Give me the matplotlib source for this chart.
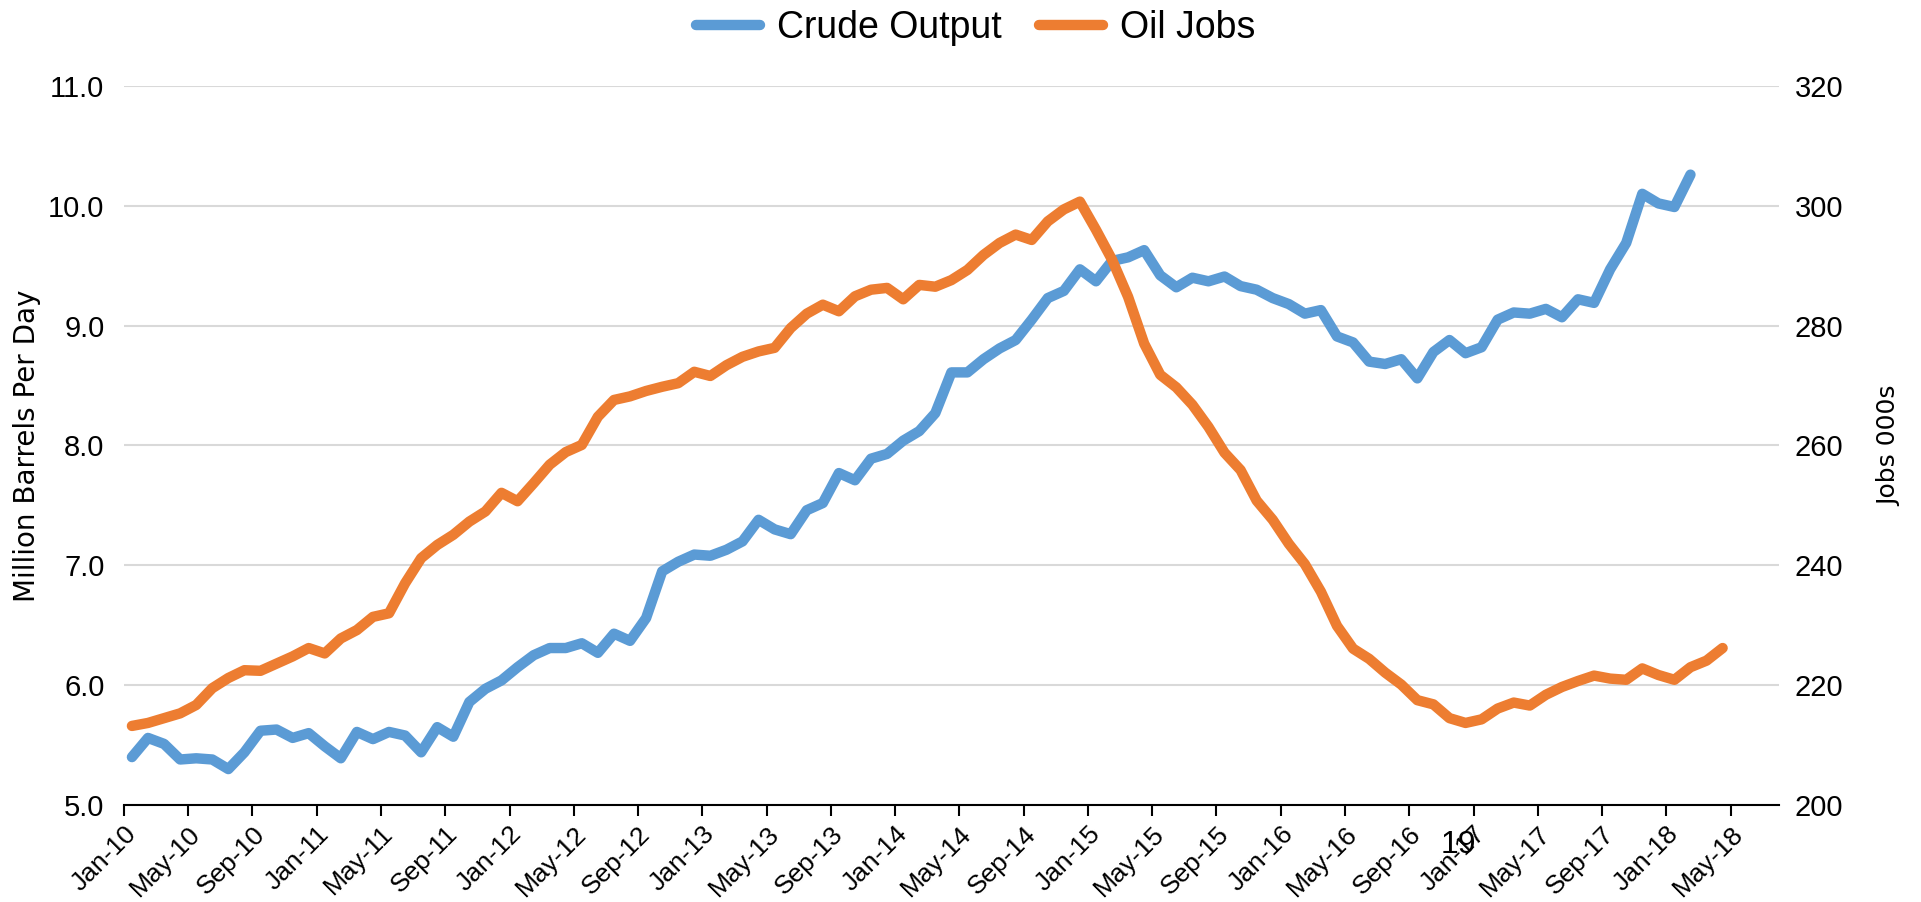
import numpy as np
import matplotlib
matplotlib.use('Agg')
from matplotlib import pyplot as plt

plt.rcParams['font.family'] = ['Liberation Sans', 'DejaVu Sans']

# monthly series, Jan-10 onwards
crude = [5.40, 5.56, 5.51, 5.38, 5.39, 5.38, 5.30, 5.44, 5.62, 5.63,
         5.56, 5.60, 5.49, 5.39, 5.61, 5.55, 5.61, 5.58, 5.44, 5.65,
         5.57, 5.86, 5.97, 6.04, 6.15, 6.25, 6.31, 6.31, 6.35, 6.27,
         6.43, 6.37, 6.56, 6.95, 7.03, 7.09, 7.08, 7.13, 7.20, 7.38,
         7.30, 7.26, 7.46, 7.52, 7.77, 7.71, 7.89, 7.93, 8.04, 8.12,
         8.27, 8.61, 8.61, 8.72, 8.81, 8.88, 9.05, 9.23, 9.29, 9.47,
         9.37, 9.54, 9.57, 9.63, 9.42, 9.32, 9.40, 9.37, 9.41, 9.33,
         9.30, 9.23, 9.18, 9.10, 9.13, 8.91, 8.86, 8.70, 8.68, 8.72,
         8.56, 8.78, 8.88, 8.77, 8.82, 9.05, 9.11, 9.10, 9.14, 9.07,
         9.22, 9.19, 9.47, 9.69, 10.10, 10.02, 9.99, 10.26]
oil_jobs = [213.2, 213.7, 214.5, 215.3, 216.7, 219.5, 221.2, 222.5, 222.4, 223.6,
            224.8, 226.2, 225.3, 227.8, 229.2, 231.4, 232.0, 237.0, 241.2, 243.4,
            245.1, 247.3, 249.0, 252.1, 250.7, 253.7, 256.8, 258.9, 260.1, 264.8,
            267.6, 268.2, 269.1, 269.8, 270.4, 272.3, 271.6, 273.4, 274.8, 275.7,
            276.3, 279.6, 282.0, 283.5, 282.4, 284.9, 286.0, 286.3, 284.4, 286.8,
            286.5, 287.6, 289.3, 291.8, 293.8, 295.2, 294.3, 297.4, 299.4, 300.7,
            296.0, 291.0, 284.8, 277.0, 271.8, 269.7, 266.8, 263.1, 258.8, 255.9,
            250.8, 247.6, 243.6, 240.2, 235.6, 229.9, 226.1, 224.4, 222.1, 220.1,
            217.5, 216.8, 214.5, 213.7, 214.3, 216.1, 217.1, 216.6, 218.4, 219.7,
            220.7, 221.6, 221.1, 220.9, 222.8, 221.7, 220.9, 223.0, 224.1, 226.2]
tick_labels = ['Jan-10', 'May-10', 'Sep-10', 'Jan-11', 'May-11', 'Sep-11',
               'Jan-12', 'May-12', 'Sep-12', 'Jan-13', 'May-13', 'Sep-13',
               'Jan-14', 'May-14', 'Sep-14', 'Jan-15', 'May-15', 'Sep-15',
               'Jan-16', 'May-16', 'Sep-16', 'Jan-17', 'May-17', 'Sep-17',
               'Jan-18', 'May-18']

blue = '#5B9BD5'
orange = '#ED7D31'

fig = plt.figure(figsize=(19.21, 9.02), dpi=100)
ax = fig.add_axes([0.0645, 0.1075, 0.8615, 0.7972])
ax2 = ax.twinx()

x1 = np.arange(len(crude)) + 0.5
x2 = np.arange(len(oil_jobs)) + 0.5
l1, = ax.plot(x1, crude, color=blue, lw=7.5, solid_capstyle='round', solid_joinstyle='round', label='Crude Output')
l2, = ax2.plot(x2, oil_jobs, color=orange, lw=7.5, solid_capstyle='round', solid_joinstyle='round', label='Oil Jobs')

ax.set_xlim(0, 103)
ax.set_ylim(5, 11)
ax2.set_ylim(200, 320)
ax.set_yticks(np.arange(5, 11.01, 1))
ax.set_yticklabels(['%.1f' % v for v in np.arange(5, 11.01, 1)])
ax2.set_yticks(np.arange(200, 321, 20))
ax.set_xticks(np.arange(0, 101, 4))
ax.set_xticklabels(tick_labels, rotation=45, ha='right', rotation_mode='anchor')

ax.grid(axis='y', color='#D9D9D9', lw=1.5)
ax.set_axisbelow(True)
for a in (ax, ax2):
    for s in ('top', 'left', 'right'):
        a.spines[s].set_visible(False)
    a.spines['bottom'].set_linewidth(1.5)
ax2.spines['bottom'].set_visible(False)
ax.tick_params(axis='y', length=0, labelsize=21, pad=14)
ax2.tick_params(axis='y', length=0, labelsize=21, pad=11.5)
ax.tick_params(axis='x', length=8, width=1.5, labelsize=19, pad=4)

ax.set_ylabel('Million Barrels Per Day', fontsize=20, family=['DejaVu Sans'], labelpad=5)
ax2.set_ylabel('Jobs 000s', fontsize=18, family=['DejaVu Sans'], labelpad=24)

fig.legend(handles=[l1, l2], loc='center', bbox_to_anchor=(0.508, 0.969), ncol=2,
           frameon=False, fontsize=27, handlelength=1.7, columnspacing=1.0, handletextpad=0.45)

fig.text(0.759, 0.063, '19', fontsize=23, ha='center', va='center')

fig.savefig('out.png', dpi=100)
